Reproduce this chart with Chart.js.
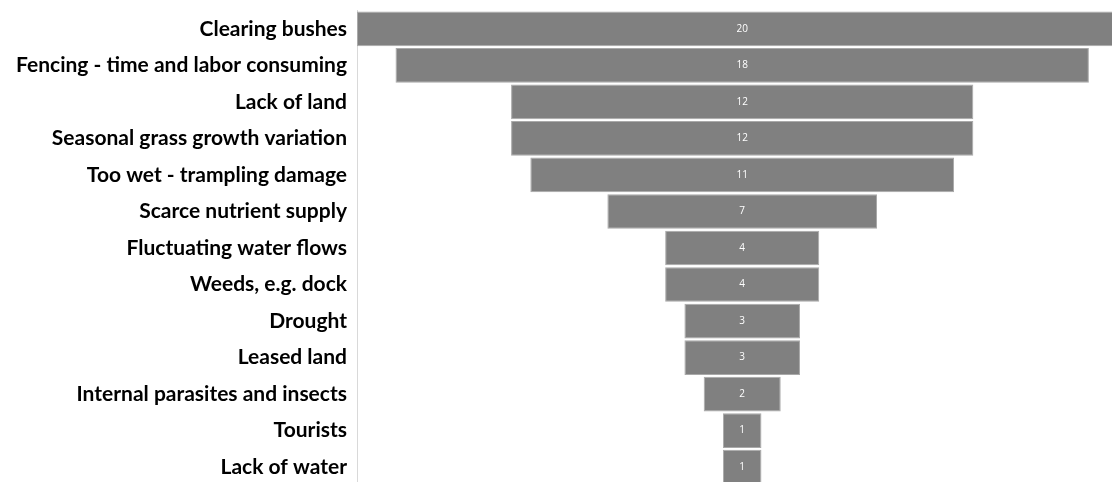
<!DOCTYPE html>
<html>
<head>
<meta charset="utf-8">
<script src="https://cdn.jsdelivr.net/npm/chart.js@4/dist/chart.umd.min.js"></script>
<style>
    html, body { margin: 0; padding: 0; background: #fff; overflow: hidden; }
    #wrap { position: relative; top: -12px; width: 1112px; height: 520px; }
</style>
</head>
<body>
<div id="wrap"><canvas id="funnelChart"></canvas></div>
<script>
// Categorías y valores del embudo
const categorias = [
    'Clearing bushes',
    'Fencing - time and labor consuming',
    'Lack of land',
    'Seasonal grass growth variation',
    'Too wet - trampling damage',
    'Scarce nutrient supply',
    'Fluctuating water flows',
    'Weeds, e.g. dock',
    'Drought',
    'Leased land',
    'Internal parasites and insects',
    'Tourists',
    'Lack of water'
];
const valores = [20, 18, 12, 12, 11, 7, 4, 4, 3, 3, 2, 1, 1];

// Etiquetas de valor en el centro de cada barra
const etiquetasValor = {
    id: 'etiquetasValor',
    afterDatasetsDraw(chart) {
        const ctx = chart.ctx;
        const meta = chart.getDatasetMeta(0);
        const xScale = chart.scales.x;
        ctx.save();
        ctx.fillStyle = '#ffffff';
        ctx.font = '10px "Open Sans", sans-serif';
        ctx.textAlign = 'center';
        ctx.textBaseline = 'middle';
        meta.data.forEach((bar, i) => {
            ctx.fillText(String(valores[i]), xScale.getPixelForValue(0), bar.y);
        });
        ctx.restore();
    }
};

new Chart(document.getElementById('funnelChart'), {
    type: 'bar',
    data: {
        labels: categorias,
        datasets: [{
            data: valores.map(v => [-v / 2, v / 2]),
            backgroundColor: '#808080',
            borderColor: '#a9a9a9',
            borderWidth: 1,
            borderSkipped: false,
            categoryPercentage: 1,
            barPercentage: 0.95
        }]
    },
    options: {
        indexAxis: 'y',
        responsive: true,
        maintainAspectRatio: false,
        animation: false,
        layout: { padding: { top: 10, bottom: 5, left: 0, right: 0 } },
        plugins: {
            legend: { display: false },
            tooltip: { enabled: false }
        },
        scales: {
            x: {
                display: false,
                min: -10,
                max: 9.6
            },
            y: {
                afterFit(scale) { scale.width = 357; },
                grid: { display: false, drawTicks: false },
                border: { display: true, color: '#d9d9d9' },
                ticks: {
                    color: '#000000',
                    padding: 10,
                    font: { family: 'Lato', size: 21, weight: 'bold' }
                }
            }
        }
    },
    plugins: [etiquetasValor]
});
</script>
</body>
</html>
